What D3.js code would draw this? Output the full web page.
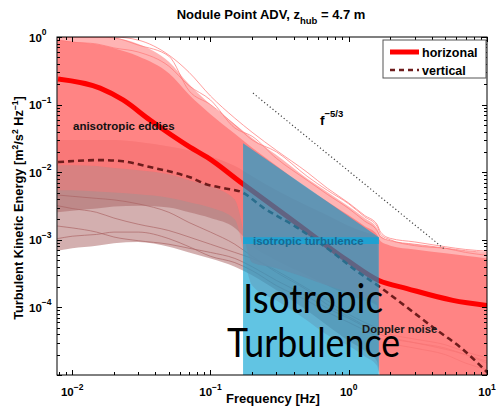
<!DOCTYPE html>
<html><head><meta charset="utf-8">
<script src="https://cdn.jsdelivr.net/npm/d3@7"></script>
<style>
body{margin:0;background:#fff}
svg{display:block}
text{font-family:"Liberation Sans",Arial,Helvetica,sans-serif;font-weight:bold}
text.big{font-family:Lato,"Open Sans",sans-serif;font-weight:normal}
</style>
</head><body>
<svg id="c" width="497" height="414"></svg>
<script>
// ---------------- data ----------------
const freq = [0.0078,0.01,0.015,0.02,0.03,0.05,0.07,0.1,0.15,0.2,0.3,0.5,0.7,1,1.3,1.6,1.7,2,3,5,7,10];

// horizontal-component spectra cloud
const hOuterTop  = [1,1,1,.97,.79,.43,.20,.10,.051,.032,.018,.0081,.0051,.0031,.0021,.0015,.00115,.00097,.00086,.00075,.00069,.00063];
const hCoreTop   = [.9,.85,.78,.68,.52,.29,.14,.072,.037,.023,.0125,.0058,.0037,.0023,.0016,.0012,.00095,.00082,.00072,.00063,.00058,.00053];
const hDenseLow  = [.0127,.0127,.0123,.0115,.0107,.0093,.0076,.0062,.0039,.00046,.00038,.00027,.00021,.000167,.00014,.000119,.000009,.000009,.000009,.000009,.000009,.000009];
const hSparseLow = [.0054,.0054,.0052,.0050,.0047,.0042,.0036,.003,.002,.00021,.000126,.000064,.000039,.000027,.000019,.0000137,.000009,.000009,.000009,.000009,.000009,.000009];

// vertical-component spectra cloud
const vTop       = [.030,.030,.030,.030,.028,.024,.021,.017,.0123,.0087,.0054,.0032,.0023,.0016,.0013,.0011,.000009,.000009,.000009,.000009,.000009,.000009];
const vDenseLow  = [.00255,.0027,.0029,.0031,.0032,.003,.00255,.0021,.0015,.00082,.0005,.0003,.00021,.00015,.000126,.000107,.000009,.000009,.000009,.000009,.000009,.000009];
const vSparseLow = [.00069,.00075,.00082,.00089,.00093,.00079,.00065,.00053,.0004,.0003,.00018,.00009,.000054,.000032,.000023,.000016,.000009,.000009,.000009,.000009,.000009,.000009];

// individual spectra (outliers at the cloud edges)
const hair1 = [1,1,1,1,.9,.54,.30,.134,.063,.039,.021,.010,.0058,.0035,.0023,.0017,.0013,.00105,.00093,.00079,.00072,.00068];
const hair2 = [1,1,1,.97,.76,.52,.16,.10,.05,.03,.020,.0087,.0054,.0034,.0022,.0016,.0012,.001,.00082,.00075,.00069,.00065];
const hair3 = [.9,.84,.79,.69,.6,.37,.19,.117,.045,.034,.016,.0076,.0047,.0029,.0019,.00137,.0011,.00097,.00086,.00075,.00065,.00059];
const gray1 = [.00104,.00113,.0012,.0013,.0013,.00104,.00079,.00057,.00046,.00035,.00021,.000126,.000085,.00006,.000046,.000037,.000035,.00003,.000025,.00002,.000015,.000012];
const gray2 = [.0016,.0015,.0013,.0011,.00097,.00086,.00075,.00065,.00053,.0004,.00025,.000146,.000097,.000069,.000052,.000043,.00004,.000035,.00003,.000025,.00002,.000016];
const gray3 = [.0032,.0029,.00255,.0021,.0017,.00137,.0011,.00086,.00065,.00053,.00035,.00019,.000126,.000079,.00006,.000049,.000045,.00004,.000034,.000028,.000022,.000018];
const gray4 = [.0046,.0044,.0041,.0039,.0034,.00255,.0018,.0013,.00086,.00057,.00033,.00018,.00011,.000073,.000054,.000043,.00004,.000036,.00003,.000024,.00002,.000015];

// mean spectra
const horizFreq = [0.0079,0.0159,0.0233,0.0365,0.071,0.0944,0.169,0.4,0.97,1.65,2.64,5.66,10];
const horizVal  = [0.239,0.175,0.117,0.059,0.0235,0.0167,0.00687,0.00188,0.0005,0.00025,0.00019,0.000127,0.000107];
const vertFreq  = [0.0079,0.0159,0.0233,0.0365,0.05,0.071,0.094,0.125,0.169,0.24,0.42,0.73,1.07,1.68,2.64,4.34,6.37,10];
const vertVal   = [0.0141,0.0151,0.0145,0.0119,0.0103,0.0084,0.0066,0.0058,0.00505,0.003,0.00153,0.0007,0.00038,0.0002,0.0001,0.000046,0.000026,0.000011];

// f^-5/3 reference line
const refFreq = [0.203,4.96];
const refVal  = [0.148,0.00072];

// isotropic turbulence highlight
const isoFreq = [0.172,1.65];
const isoTop  = [0.0269,0.00109];
const stripTop = [0.00109,0.00109];
const stripBot = [0.00087,0.00087];

// ticks
const xTickVals = [0.01,0.1,1,10];
const xTickExp  = ["\u22122","\u22121","0","1"];
const yTickVals = [1,0.1,0.01,0.001,0.0001];
const yTickExp  = ["0","\u22121","\u22122","\u22123","\u22124"];

// ---------------- drawing ----------------
const L=57,R=487,T=37,B=375;
const x = d3.scaleLog().domain([0.00776,10]).range([L,R]);
const y = d3.scaleLog().domain([1e-5,1]).range([B,T]);
const svg = d3.select("#c");
svg.append("rect").attr("width",497).attr("height",414).attr("fill","#fff");
svg.append("defs").append("clipPath").attr("id","clip")
  .append("rect").attr("x",L).attr("y",T).attr("width",R-L).attr("height",B-T);
const plot = svg.append("g").attr("clip-path","url(#clip)");

function band(fs,top,bot,fill,op){
  const data = fs.map((f,i)=>[f,top[i],bot[i]]);
  plot.append("path").datum(data)
    .attr("d",d3.area().x(d=>x(d[0])).y1(d=>y(d[1])).y0(d=>y(d[2])).curve(d3.curveMonotoneX))
    .attr("fill",fill).attr("fill-opacity",op);
}
function line(g,fs,vs,stroke,w,op,dash,curve){
  const data = fs.map((f,i)=>[f,vs[i]]);
  const p = g.append("path").datum(data)
    .attr("d",d3.line().x(d=>x(d[0])).y(d=>y(d[1])).curve(curve||d3.curveMonotoneX))
    .attr("fill","none").attr("stroke",stroke).attr("stroke-width",w).attr("stroke-opacity",op);
  if(dash) p.attr("stroke-dasharray",dash);
  return p;
}

// vertical spectra cloud
band(freq,vTop,vSparseLow,"rgb(175,110,110)",0.55);
band(freq,vTop,vDenseLow,"rgb(170,100,100)",0.5);
[gray1,gray2,gray3,gray4].forEach(v=>line(plot,freq,v,"rgb(170,100,100)",0.8,0.85));

// horizontal spectra cloud
band(freq,hOuterTop,hDenseLow,"rgb(255,118,118)",0.55);
band(freq,hCoreTop,hDenseLow,"rgb(255,118,118)",0.78);
band(freq,hDenseLow,hSparseLow,"rgb(255,118,118)",0.4);
[hair1,hair2,hair3].forEach(v=>line(plot,freq,v,"rgb(255,120,120)",0.8,0.9));

// means
line(plot,horizFreq,horizVal,"#ff0000",5,1);
line(plot,vertFreq,vertVal,"#6e1c1c",2.6,1,"6,4");

// annotations beneath the highlight
svg.append("text").attr("x",73).attr("y",130).attr("font-size",11.5).attr("fill","#111").text("anisotropic eddies");
svg.append("text").attr("x",362).attr("y",333).attr("font-size",11.3).attr("fill","#1a1a1a").text("Doppler noise");

// isotropic highlight
const isoData = isoFreq.map((f,i)=>[f,isoTop[i]]);
plot.append("path").datum(isoData)
  .attr("d",d3.area().x(d=>x(d[0])).y1(d=>y(d[1])).y0(B+5))
  .attr("fill","rgb(0,160,210)").attr("fill-opacity",0.62);
const stripData = isoFreq.map((f,i)=>[f,stripTop[i],stripBot[i]]);
plot.append("path").datum(stripData)
  .attr("d",d3.area().x(d=>x(d[0])).y1(d=>y(d[1])).y0(d=>y(d[2])))
  .attr("fill","rgb(20,165,215)").attr("fill-opacity",0.85);
svg.append("text").attr("x",253).attr("y",245).attr("font-size",11.5).attr("fill","rgb(25,105,145)").text("isotropic turbulence");

// big label
svg.append("text").attr("class","big").attr("x",243).attr("y",313)
  .attr("font-size",40).attr("fill","#000")
  .attr("textLength",140).attr("lengthAdjust","spacingAndGlyphs").text("Isotropic");
svg.append("text").attr("class","big").attr("x",227).attr("y",357)
  .attr("font-size",40).attr("fill","#000")
  .attr("textLength",173).attr("lengthAdjust","spacingAndGlyphs").text("Turbulence");

// f^-5/3
line(svg,refFreq,refVal,"#444",1.2,1,"1.2,2.4",d3.curveLinear);
const ft = svg.append("text").attr("x",320).attr("y",125).attr("font-size",13.5).attr("fill","#000");
ft.append("tspan").text("f");
ft.append("tspan").attr("dy",-8).attr("font-size",9.5).text("\u22125/3");

// axes box
const ax = svg.append("g").attr("stroke","#000").attr("fill","none");
ax.append("rect").attr("x",L).attr("y",T).attr("width",R-L).attr("height",B-T).attr("stroke-width",1);
function minors(dom){
  const out=[]; for(let e=-6;e<=1;e++){ for(let k=1;k<=9;k++){ const v=k*Math.pow(10,e); if(v>=dom[0]*0.999&&v<=dom[1]*1.001) out.push([v,k===1]); } } return out;
}
minors(x.domain()).forEach(([v,maj])=>{
  const px=Math.round(x(v))+0.5, len=maj?5:3;
  ax.append("line").attr("x1",px).attr("x2",px).attr("y1",B).attr("y2",B-len);
  ax.append("line").attr("x1",px).attr("x2",px).attr("y1",T).attr("y2",T+len);
});
minors(y.domain()).forEach(([v,maj])=>{
  const py=Math.round(y(v))+0.5, len=maj?5:3;
  ax.append("line").attr("x1",L).attr("x2",L+len).attr("y1",py).attr("y2",py);
  ax.append("line").attr("x1",R).attr("x2",R-len).attr("y1",py).attr("y2",py);
});

// tick labels
xTickVals.forEach((v,i)=>{
  const t=svg.append("text").attr("x",x(v)).attr("y",396).attr("text-anchor","middle").attr("font-size",11.5).attr("fill","#000");
  t.append("tspan").text("10");
  t.append("tspan").attr("dy",-6.5).attr("font-size",8.5).text(xTickExp[i]);
});
yTickVals.forEach((v,i)=>{
  const t=svg.append("text").attr("x",29).attr("y",y(v)+4.5).attr("font-size",11.5).attr("fill","#000");
  t.append("tspan").text("10");
  t.append("tspan").attr("dy",-6.5).attr("font-size",8.5).text(yTickExp[i]);
});

// axis titles
svg.append("text").attr("x",273).attr("y",403).attr("text-anchor","middle").attr("font-size",13).attr("fill","#000").text("Frequency [Hz]");
const yl = svg.append("text").attr("transform","translate(23,208) rotate(-90)").attr("text-anchor","middle").attr("font-size",12.8).attr("fill","#000");
yl.append("tspan").text("Turbulent Kinetic Energy [m");
yl.append("tspan").attr("dy",-5).attr("font-size",8.5).text("2");
yl.append("tspan").attr("dy",5).text("/s");
yl.append("tspan").attr("dy",-5).attr("font-size",8.5).text("2");
yl.append("tspan").attr("dy",5).text(" Hz");
yl.append("tspan").attr("dy",-5).attr("font-size",8.5).text("\u22121");
yl.append("tspan").attr("dy",5).text("]");

// title
const tt = svg.append("text").attr("x",271).attr("y",19).attr("text-anchor","middle").attr("font-size",13).attr("fill","#000");
tt.append("tspan").text("Nodule Point ADV, z");
tt.append("tspan").attr("dy",5).attr("font-size",9.5).text("hub");
tt.append("tspan").attr("dy",-5).text(" = 4.7 m");

// legend
const lg = svg.append("g");
lg.append("rect").attr("x",383).attr("y",40).attr("width",103).attr("height",38).attr("fill","#fff").attr("stroke","#555").attr("stroke-width",1);
lg.append("line").attr("x1",390).attr("x2",419).attr("y1",52).attr("y2",52).attr("stroke","#ff0000").attr("stroke-width",5);
lg.append("line").attr("x1",390).attr("x2",419).attr("y1",70).attr("y2",70).attr("stroke","#6e1c1c").attr("stroke-width",2.6).attr("stroke-dasharray","5,4");
lg.append("text").attr("x",422).attr("y",56.5).attr("font-size",12.5).attr("fill","#000").text("horizonal");
lg.append("text").attr("x",422).attr("y",74.5).attr("font-size",12.5).attr("fill","#000").text("vertical");
</script>
</body></html>
